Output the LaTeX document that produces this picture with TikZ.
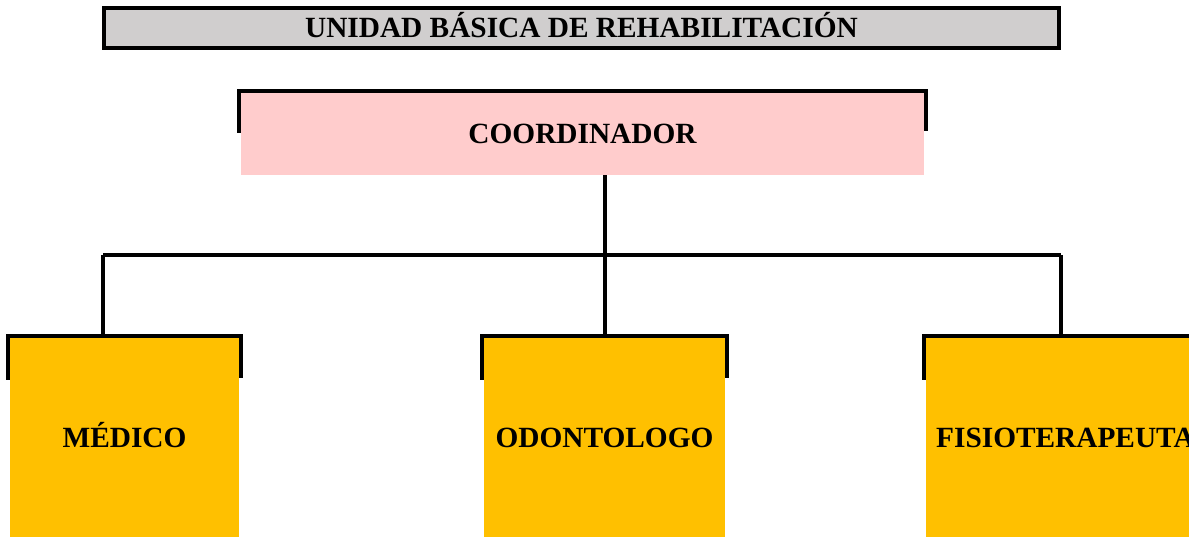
\documentclass[tikz,border=0pt]{standalone}
\usepackage{fontspec}
\setmainfont{Liberation Serif}
\usepackage{tikz}

\definecolor{titlegray}{HTML}{D0CECE}
\definecolor{coordpink}{HTML}{FFCCCC}
\definecolor{staffgold}{HTML}{FFC000}

\tikzset{
  linea/.style={line width=2.8pt},
  caja/.style={inner sep=0pt, text height=14.5pt, text depth=0pt,
    font=\bfseries\fontsize{22}{26}\selectfont},
  staff/.style={caja, fill=staffgold, minimum height=149.25pt}
}

\begin{document}
\begin{tikzpicture}[x=0.75pt,y=-0.75pt]
  \useasboundingbox (0,0) rectangle (1189,537);
  \node[caja, draw, linea, fill=titlegray, minimum width=716pt, minimum height=30pt]
    (unidad) at (581.5,28) {UNIDAD BÁSICA DE REHABILITACIÓN};
  \node[caja, fill=coordpink, minimum width=512.25pt, minimum height=61.5pt]
    (coord) at (582.5,134) {COORDINADOR};
  \node[staff, minimum width=171.75pt] (med) at (124.5,437.5) {MÉDICO};
  \node[staff, minimum width=180.75pt] (odo) at (604.5,437.5) {ODONTOLOGO};
  \node[staff, minimum width=209.25pt] (fis) at (1065.5,437.5) {FISIOTERAPEUTA};

  \foreach \n/\h in {coord/40,med/42,odo/42,fis/42}
    \draw[linea] ([shift={(-1.5,\h)}]\n.north west) |- ([shift={(1.5,-1.5)}]\n.north east) -- ++(0,\h);

  \coordinate (bus) at (605,255);
  \coordinate (jmed) at (103,255);
  \coordinate (jfis) at (1061,255);
  \draw[linea] (jmed) -- (jfis);
  \draw[linea] (bus |- coord.south) -- (bus |- odo.north);
  \draw[linea] (jmed) -- (jmed |- med.north);
  \draw[linea] (jfis) -- (jfis |- fis.north);
\end{tikzpicture}
\end{document}
